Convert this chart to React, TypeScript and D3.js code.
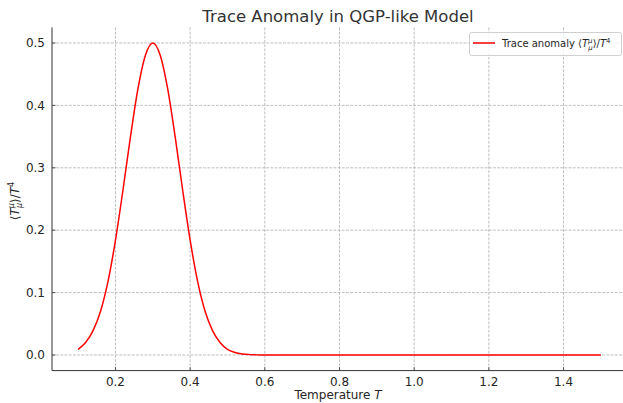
import React from "react";
import * as d3 from "d3";

const temperature = [
  0.10, 0.12, 0.14, 0.16, 0.18, 0.20, 0.22, 0.24, 0.26, 0.28, 0.30,
  0.32, 0.34, 0.36, 0.38, 0.40, 0.42, 0.44, 0.46, 0.48, 0.50, 0.52,
  0.54, 0.56, 0.58, 0.60, 0.65, 0.70, 0.80, 0.90, 1.00, 1.10, 1.20,
  1.30, 1.40, 1.50,
];
const traceAnomaly = [
  0.009, 0.020, 0.039, 0.070, 0.118, 0.184, 0.264, 0.349, 0.426, 0.480, 0.500,
  0.480, 0.426, 0.349, 0.264, 0.184, 0.118, 0.070, 0.039, 0.020, 0.009, 0.004,
  0.0016, 0.0006, 0.0002, 0.0001, 0, 0, 0, 0, 0, 0, 0,
  0, 0, 0,
];
const xTicks = [0.2, 0.4, 0.6, 0.8, 1.0, 1.2, 1.4];
const yTicks = [0.0, 0.1, 0.2, 0.3, 0.4, 0.5];

const W = 623;
const H = 403;
const m = { left: 52, right: 627, top: 27.4, bottom: 370.6 };

export default function App() {
  const x = d3.scaleLinear().domain([0.03, 1.57]).range([m.left, m.right]);
  const y = d3.scaleLinear().domain([-0.025, 0.525]).range([m.bottom, m.top]);
  const pts: [number, number][] = temperature.map((t, i) => [t, traceAnomaly[i]]);
  const line = d3
    .line<[number, number]>()
    .x((d) => x(d[0]))
    .y((d) => y(d[1]))
    .curve(d3.curveMonotoneX);
  const font = "DejaVu Sans, sans-serif";
  const textColor = "#262626";
  return (
    <svg width={W} height={H} style={{ position: "absolute", left: 0, top: 0 }} fontFamily={font}>
      <rect width={W} height={H} fill="#fff" />
      {/* grid */}
      {xTicks.map((t) => (
        <line key={"gx" + t} x1={x(t)} x2={x(t)} y1={m.top} y2={m.bottom} stroke="#b0b0b0" strokeWidth={0.8} strokeDasharray="2.9,1.3" />
      ))}
      {yTicks.map((t) => (
        <line key={"gy" + t} x1={m.left} x2={W} y1={y(t)} y2={y(t)} stroke="#b0b0b0" strokeWidth={0.8} strokeDasharray="2.9,1.3" />
      ))}
      {/* curve */}
      <path d={line(pts) || ""} fill="none" stroke="#ff0000" strokeWidth={1.5} />
      {/* spines */}
      <line x1={m.left} x2={m.left} y1={m.top} y2={m.bottom} stroke="#333" strokeWidth={1} />
      <line x1={m.left} x2={W} y1={m.bottom} y2={m.bottom} stroke="#333" strokeWidth={1} />
      {/* ticks */}
      {xTicks.map((t) => (
        <g key={"tx" + t}>
          <line x1={x(t)} x2={x(t)} y1={m.bottom} y2={m.bottom - 3.5} stroke="#333" strokeWidth={0.8} />
          <text x={x(t)} y={m.bottom + 15} textAnchor="middle" fontSize={12} fill={textColor}>
            {d3.format(".1f")(t)}
          </text>
        </g>
      ))}
      {yTicks.map((t) => (
        <g key={"ty" + t}>
          <line x1={m.left} x2={m.left + 3.5} y1={y(t)} y2={y(t)} stroke="#333" strokeWidth={0.8} />
          <text x={m.left - 7} y={y(t) + 4.2} textAnchor="end" fontSize={12} fill={textColor}>
            {d3.format(".1f")(t)}
          </text>
        </g>
      ))}
      {/* title */}
      <text x={338} y={22} textAnchor="middle" fontSize={16.5} fill="#333">
        Trace Anomaly in QGP-like Model
      </text>
      {/* x label */}
      <text x={338} y={399} textAnchor="middle" fontSize={12} fill={textColor}>
        Temperature <tspan fontStyle="italic">T</tspan>
      </text>
      {/* y label */}
      <g transform="translate(19,201) rotate(-90)">
        <text x={0} y={0} textAnchor="middle" fontSize={12} fill={textColor}>
          ⟨<tspan fontStyle="italic">T</tspan>
          <tspan fontSize={8} fontStyle="italic" dy={-5}>μ</tspan>
          <tspan fontSize={8} fontStyle="italic" dx={-5} dy={8}>μ</tspan>
          <tspan dy={-3}>⟩/</tspan>
          <tspan fontStyle="italic">T</tspan>
          <tspan fontSize={8} dy={-5}>4</tspan>
        </text>
      </g>
      {/* legend */}
      <rect x={469.5} y={32.5} width={152} height={23} rx={2} fill="#fff" fillOpacity={0.8} stroke="#d0d0d0" strokeWidth={1} />
      <line x1={473} x2={495} y1={43} y2={43} stroke="#ff0000" strokeWidth={1.5} />
      <text x={502} y={47} fontSize={10} fill={textColor}>
        Trace anomaly ⟨<tspan fontStyle="italic">T</tspan>
        <tspan fontSize={7} fontStyle="italic" dy={-4}>μ</tspan>
        <tspan fontSize={7} fontStyle="italic" dx={-4.3} dy={7}>μ</tspan>
        <tspan dy={-3}>⟩/</tspan>
        <tspan fontStyle="italic">T</tspan>
        <tspan fontSize={7} dy={-4}>4</tspan>
      </text>
    </svg>
  );
}
